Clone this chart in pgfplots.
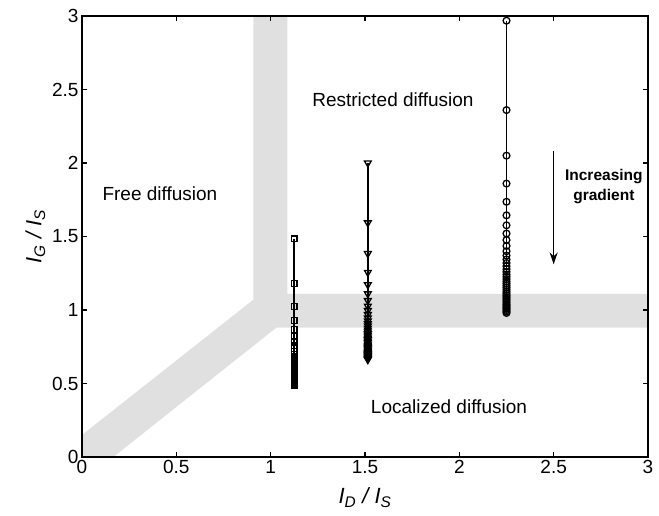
\documentclass[border=0pt]{standalone}
\usepackage{fontspec}
\setmainfont{Liberation Sans}
\usepackage{pgfplots}
\pgfplotsset{compat=1.18}
\usetikzlibrary{arrows.meta}
\definecolor{band}{RGB}{224,224,224}
\begin{document}
\begin{tikzpicture}
\begin{axis}[
 scale only axis, width=566pt, height=441pt,
 xmin=0, xmax=3, ymin=0, ymax=3,
 xtick={0,0.5,1,1.5,2,2.5,3}, ytick={0,0.5,1,1.5,2,2.5,3},
 tick align=inside, major tick length=5pt,
 axis line style={line width=1.5pt},
 every tick/.style={black, line width=1.3pt},
 tick label style={font=\fontsize{19}{21}\selectfont},
 /pgf/number format/assume math mode=true,
 label style={font=\fontsize{22}{24}\selectfont},
 xlabel={\textit{I\textsubscript{D} / I\textsubscript{S}}},
 xlabel style={yshift=-7pt},
 ylabel={\textit{I\textsubscript{G} / I\textsubscript{S}}},
 axis on top,
]
\addplot[fill=band, draw=none, forget plot] coordinates {
 (0,0) (0.166,0) (1.03,0.88) (3,0.88) (3,1.11) (1.088,1.11) (1.088,3)
 (0.908,3) (0.908,1.07) (0,0.15)} -- cycle;

\addplot[black, line width=1.5pt, mark=square, mark size=2.9pt, mark options={solid, line width=1.3pt}] coordinates {
(1.125,1.484) (1.125,1.180) (1.125,1.025) (1.125,0.930) (1.125,0.868) (1.125,0.822) (1.125,0.788) (1.125,0.760)
(1.125,0.738) (1.125,0.718) (1.125,0.700) (1.125,0.685) (1.125,0.672) (1.125,0.660) (1.125,0.649) (1.125,0.639)
(1.125,0.630) (1.125,0.621) (1.125,0.613) (1.125,0.605) (1.125,0.597) (1.125,0.590) (1.125,0.583) (1.125,0.576)
(1.125,0.569) (1.125,0.562) (1.125,0.556) (1.125,0.550) (1.125,0.544) (1.125,0.538) (1.125,0.532) (1.125,0.526)
(1.125,0.520) (1.125,0.515) (1.125,0.510) (1.125,0.505) (1.125,0.500) (1.125,0.495) (1.125,0.490)};

\addplot[black, line width=1.5pt, mark=triangle, mark size=3.9pt, mark options={solid, rotate=180, line width=1.3pt}] coordinates {
(1.515,2.000) (1.515,1.593) (1.515,1.384) (1.515,1.256) (1.515,1.172) (1.515,1.110) (1.515,1.064) (1.515,1.026)
(1.515,0.996) (1.515,0.969) (1.515,0.945) (1.515,0.925) (1.515,0.907) (1.515,0.891) (1.515,0.876) (1.515,0.863)
(1.515,0.851) (1.515,0.838) (1.515,0.828) (1.515,0.817) (1.515,0.806) (1.515,0.797) (1.515,0.787) (1.515,0.778)
(1.515,0.768) (1.515,0.759) (1.515,0.751) (1.515,0.743) (1.515,0.734) (1.515,0.726) (1.515,0.718) (1.515,0.710)
(1.515,0.702) (1.515,0.695) (1.515,0.689) (1.515,0.682) (1.515,0.675) (1.515,0.668) (1.515,0.662)};

\addplot[black, line width=1.5pt, mark=o, mark size=3.4pt, mark options={solid, line width=1.3pt}] coordinates {
(2.25,2.968) (2.25,2.360) (2.25,2.050) (2.25,1.860) (2.25,1.736) (2.25,1.644) (2.25,1.576) (2.25,1.520)
(2.25,1.476) (2.25,1.436) (2.25,1.400) (2.25,1.370) (2.25,1.344) (2.25,1.320) (2.25,1.298) (2.25,1.278)
(2.25,1.260) (2.25,1.242) (2.25,1.226) (2.25,1.210) (2.25,1.194) (2.25,1.180) (2.25,1.166) (2.25,1.152)
(2.25,1.138) (2.25,1.124) (2.25,1.112) (2.25,1.100) (2.25,1.088) (2.25,1.076) (2.25,1.064) (2.25,1.052)
(2.25,1.040) (2.25,1.030) (2.25,1.020) (2.25,1.010) (2.25,1.000) (2.25,0.990) (2.25,0.980)};

\node[font=\fontsize{19}{21}\selectfont] at (axis cs:0.413,1.79) {Free diffusion};
\node[font=\fontsize{19}{21}\selectfont] at (axis cs:1.648,2.43) {Restricted diffusion};
\node[font=\fontsize{19}{21}\selectfont] at (axis cs:1.945,0.34) {Localized diffusion};
\node[font=\bfseries\fontsize{15.5}{20}\selectfont, align=center] at (axis cs:2.766,1.84) {Increasing\\gradient};
\draw[line width=1.6pt, -{Stealth[length=12pt, width=8pt]}] (axis cs:2.5,2.08) -- (axis cs:2.5,1.31);

\coordinate (sw) at (rel axis cs:0,0);
\coordinate (ne) at (rel axis cs:1,1);
\end{axis}
\pgfresetboundingbox
\path[use as bounding box] ([shift={(-82pt,-59pt)}]sw) rectangle ([shift={(11pt,16pt)}]ne);
\end{tikzpicture}
\end{document}
